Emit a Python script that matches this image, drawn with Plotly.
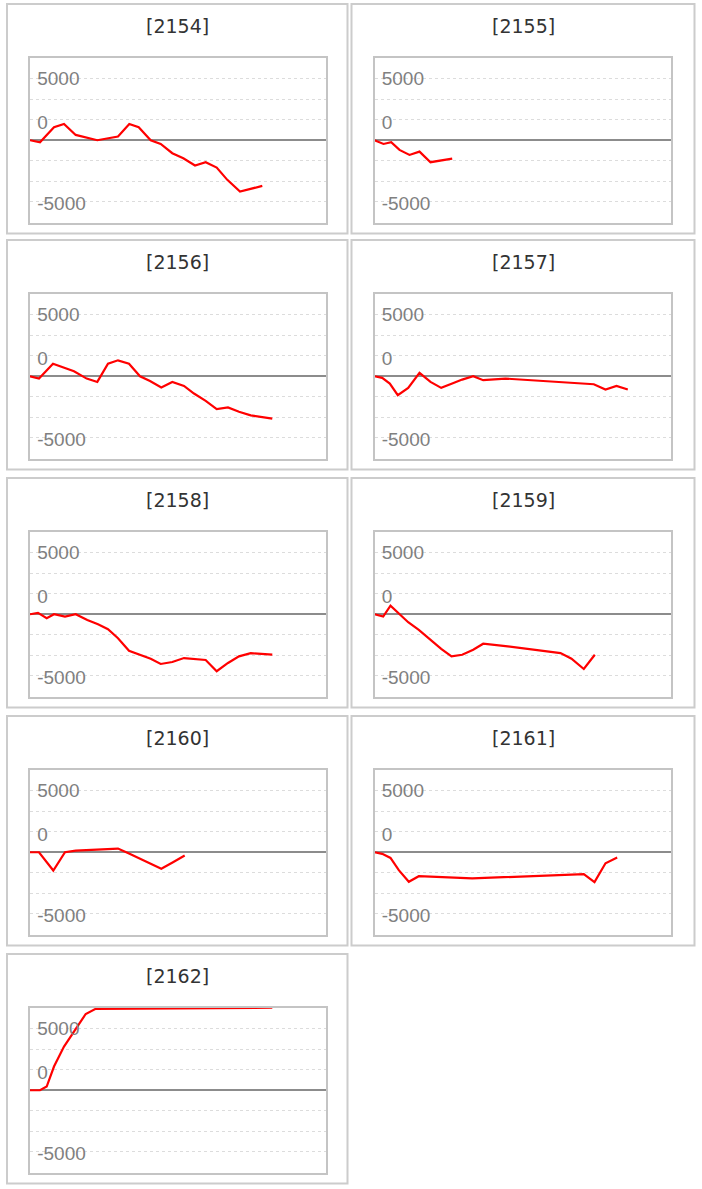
import plotly.graph_objects as go

W, H = 702, 1189

titles = ["[2154]", "[2155]", "[2156]", "[2157]", "[2158]", "[2159]", "[2160]", "[2161]", "[2162]"]

x_2154 = [0, 10, 24, 34, 45.7, 67.3, 88, 99.3, 108.7, 120.7, 130.7, 142.3, 153.3, 165, 175.7, 186.7, 197.3, 210, 232.3]
y_2154 = [0, -160, 1050, 1320, 430, 0, 300, 1320, 1050, 0, -300, -1050, -1460, -2050, -1780, -2210, -3210, -4160, -3700]

x_2155 = [0, 9, 16.7, 25, 35, 45, 56, 77.7]
y_2155 = [0, -300, -160, -780, -1190, -920, -1780, -1490]

x_2156 = [0, 9, 23, 34, 44, 56.7, 67.3, 78, 88, 99, 110, 120, 131.3, 142.3, 154, 164, 175.7, 186.7, 198, 209, 220.7, 242.3]
y_2156 = [0, -190, 1020, 700, 400, -190, -460, 1020, 1290, 1020, 0, -380, -910, -460, -780, -1400, -1990, -2660, -2530, -2880, -3170, -3440]

x_2157 = [0, 7.7, 15.3, 23.3, 33.7, 45, 56, 66.7, 77.7, 87.7, 98.7, 108.7, 131, 219.3, 231, 242, 253.3]
y_2157 = [0, -130, -590, -1530, -940, 270, -460, -940, -590, -270, 0, -320, -190, -650, -1080, -780, -1080]

x_2158 = [0, 8, 16.7, 24, 35, 45.7, 57.3, 68, 78, 88, 99, 110, 120.7, 130.7, 142.3, 154, 164.7, 175.7, 186.7, 198, 209, 220.7, 242.3]
y_2158 = [0, 110, -320, 0, -190, 0, -460, -810, -1210, -1940, -2960, -3280, -3600, -4030, -3870, -3550, -3600, -3710, -4620, -3950, -3410, -3150, -3280]

x_2159 = [0, 8.7, 16, 24.3, 33.7, 44.3, 56, 66.7, 77, 87.7, 98.7, 108.7, 131, 186, 197, 209.3, 220.3]
y_2159 = [0, -190, 700, 80, -650, -1260, -2070, -2800, -3410, -3280, -2880, -2390, -2580, -3150, -3600, -4440, -3280]

x_2160 = [0, 9, 23.3, 35, 45.7, 88, 99, 110, 131.3, 143, 154.7]
y_2160 = [0, 0, -1480, 0, 130, 300, -110, -510, -1340, -810, -270]

x_2161 = [0, 7.7, 16, 24.3, 34.3, 44.3, 97.7, 209.3, 220, 231, 242.7]
y_2161 = [0, -130, -460, -1450, -2390, -1940, -2120, -1770, -2420, -890, -430]

x_2162 = [0, 10, 16.7, 24, 34, 44.7, 55.7, 65.7, 242.3]
y_2162 = [0, 0, 300, 1920, 3540, 4890, 6180, 6600, 6690]

series = [(x_2154, y_2154), (x_2155, y_2155), (x_2156, y_2156), (x_2157, y_2157),
          (x_2158, y_2158), (x_2159, y_2159), (x_2160, y_2160), (x_2161, y_2161),
          (x_2162, y_2162)]

y_tick_vals = [5000, 1450, -5150]
y_tick_text = ["5000", "0", "-5000"]
y_grid_vals = [-5000, -3333.3, -1666.7, 1666.7, 3333.3, 5000]
y_range = [-6666.7, 6666.7]
x_range = [0, 296]

col_plot_left = [30, 374.5]
plot_w = 296
row_plot_top = [58, 294, 532, 770, 1008]
plot_h = 164.5
col_panel = [(7, 347.5), (351.5, 694.5)]

fig = go.Figure()
shapes = []
annotations = []
layout = {}

for i, (t, (xs, ys)) in enumerate(zip(titles, series)):
    r, c = divmod(i, 2)
    n = "" if i == 0 else str(i + 1)
    left = col_plot_left[c]
    top = row_plot_top[r]
    xd = [left / W, (left + plot_w) / W]
    yd = [1 - (top + plot_h) / H, 1 - top / H]
    fig.add_trace(go.Scatter(x=xs, y=ys, mode="lines",
                             line=dict(color="#ff0000", width=2.2),
                             xaxis="x" + n, yaxis="y" + n,
                             showlegend=False, hoverinfo="skip"))
    layout["xaxis" + n] = dict(domain=xd, range=x_range, anchor="y" + n,
                               showgrid=False, zeroline=False, showticklabels=False,
                               showline=True, mirror=True, linecolor="#c4c4c4",
                               linewidth=2, ticks="", fixedrange=True)
    layout["yaxis" + n] = dict(domain=yd, range=y_range, anchor="x" + n,
                               tickmode="array", tickvals=y_tick_vals, ticktext=y_tick_text,
                               ticklabelposition="inside", ticks="",
                               ticklabelstandoff=8,
                               tickfont=dict(family="Liberation Sans", size=19, color="#808080"),
                               showgrid=False,
                               minor=dict(tickmode="array", tickvals=y_grid_vals, showgrid=True,
                                          gridcolor="#dcdcdc", griddash="dot", gridwidth=1,
                                          ticks=""),
                               zeroline=True, zerolinecolor="#8c8c8c", zerolinewidth=2,
                               showline=True, mirror=True, linecolor="#c4c4c4",
                               linewidth=2, fixedrange=True)
    px0, px1 = col_panel[c]
    shapes.append(dict(type="rect", xref="paper", yref="paper",
                       x0=px0 / W, x1=px1 / W,
                       y0=1 - (top + 175.5) / H, y1=1 - (top - 54) / H,
                       line=dict(color="#cccccc", width=2), fillcolor="rgba(0,0,0,0)",
                       layer="below"))
    annotations.append(dict(text=t, xref="paper", yref="paper",
                            x=(px0 + px1) / 2 / W, y=1 - (top - 32) / H,
                            xanchor="center", yanchor="middle", showarrow=False,
                            font=dict(family="DejaVu Sans", size=19, color="#333333")))

fig.update_layout(**layout)
fig.update_layout(width=W, height=H, margin=dict(l=0, r=0, t=0, b=0),
                  paper_bgcolor="white", plot_bgcolor="white",
                  shapes=shapes, annotations=annotations, showlegend=False)

fig.write_html("out.html",
               config={"displayModeBar": False},
               post_script="document.body.style.margin='0px';document.body.style.overflow='hidden';")
